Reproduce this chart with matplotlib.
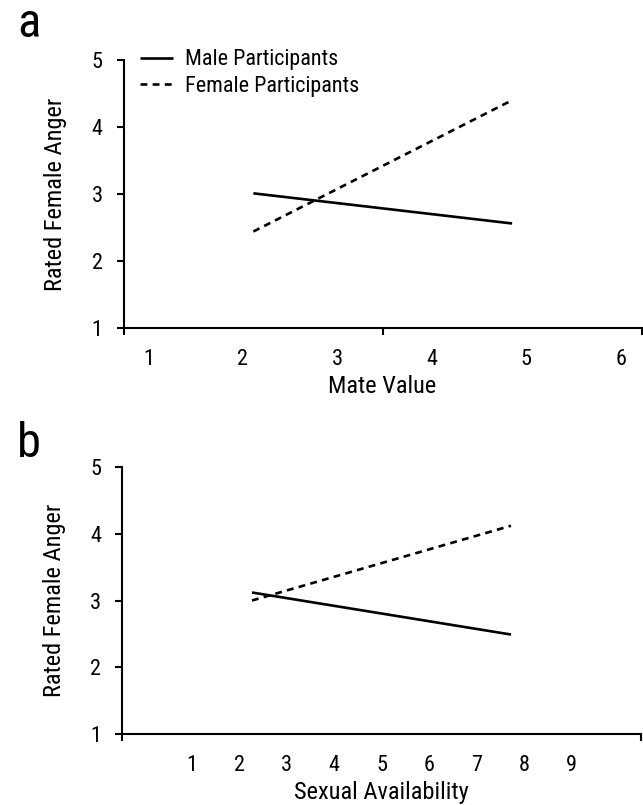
import matplotlib
matplotlib.use("Agg")
import matplotlib.pyplot as plt
from matplotlib import font_manager as fm

names = {f.name for f in fm.fontManager.ttflist}
FONT = next((n for n in ["Roboto Condensed", "Archivo Narrow", "Pragati Narrow",
                         "Liberation Sans Narrow", "Liberation Sans"] if n in names), "DejaVu Sans")
plt.rcParams['font.family'] = [FONT, 'DejaVu Sans']

# ---- data ----
series_names = ["Male Participants", "Female Participants"]
# panel a: Mate Value
a_x = [2.11, 4.85]
a_male = [3.01, 2.56]
a_female = [2.44, 4.40]
a_xticks = [1, 2, 3, 4, 5, 6]
a_xlabel = "Mate Value"
# panel b: Sexual Availability
b_x = [2.27, 7.73]
b_male = [3.12, 2.49]
b_female = [3.00, 4.12]
b_xticks = [1, 2, 3, 4, 5, 6, 7, 8, 9]
b_xlabel = "Sexual Availability"
yticks = [1, 2, 3, 4, 5]
ylabel = "Rated Female Anger"

W, H = 643, 805
fig = plt.figure(figsize=(W / 100, H / 100), dpi=100)

def px_axes(left, right, top, bottom):
    return fig.add_axes([left / W, 1 - bottom / H, (right - left) / W, (bottom - top) / H])

axA = px_axes(123.5, 641.5, 60, 328)
axB = px_axes(122, 641, 467, 734)

LW = 1.9
FS = 16
FS_LAB = 17.6
FS_LEG = 15.9

def style(ax, x, male, female, xticks, xlim, xlabel, legend=False):
    l1, = ax.plot(x, male, color='black', lw=LW, solid_capstyle='butt')
    l2, = ax.plot(x, female, color='black', lw=LW, ls=(0, (2.6, 2.0)), dash_capstyle='butt')
    ax.set_xlim(*xlim)
    ax.set_ylim(1, 5)
    for s in ['top', 'right']:
        ax.spines[s].set_visible(False)
    for s in ['left', 'bottom']:
        ax.spines[s].set_linewidth(1.5)
    ax.set_yticks(yticks)
    ax.tick_params(axis='y', length=5, width=1.5, pad=10, labelsize=FS)
    ax.set_xticks(xticks)
    ax.set_xticks([xlim[0], (xlim[0] + xlim[1]) / 2, xlim[1]], minor=True)
    ax.tick_params(axis='x', which='major', length=0, pad=15, labelsize=FS)
    ax.tick_params(axis='x', which='minor', length=5, width=1.5)
    ax.set_xlabel(xlabel, fontsize=FS_LAB)
    ax.xaxis.label.set_va('center')
    hpx = ax.get_position().height * H
    wpx = ax.get_position().width * W
    ax.xaxis.set_label_coords(0.5, -58 / hpx)
    ax.set_ylabel(ylabel, fontsize=FS_LAB)
    ax.yaxis.label.set_va('center')
    ax.yaxis.set_label_coords(-(123 - 55) / wpx, 0.5)
    if legend:
        ax.legend([l1, l2], series_names, loc='upper left', bbox_to_anchor=(0.032, 1.04),
                  frameon=False, fontsize=FS_LEG, handlelength=1.5, handletextpad=0.55,
                  labelspacing=0.25, borderaxespad=0, borderpad=0)
    return l1, l2

style(axA, a_x, a_male, a_female, a_xticks, (0.735, 6.22), a_xlabel, legend=True)
style(axB, b_x, b_male, b_female, b_xticks, (-0.47, 10.47), b_xlabel)

fig.text(17 / W, 1 - 37 / H, 'a', fontsize=35, ha='left', va='baseline')
fig.text(17 / W, 1 - 457 / H, 'b', fontsize=35, ha='left', va='baseline')

fig.savefig('out.png', dpi=100)
